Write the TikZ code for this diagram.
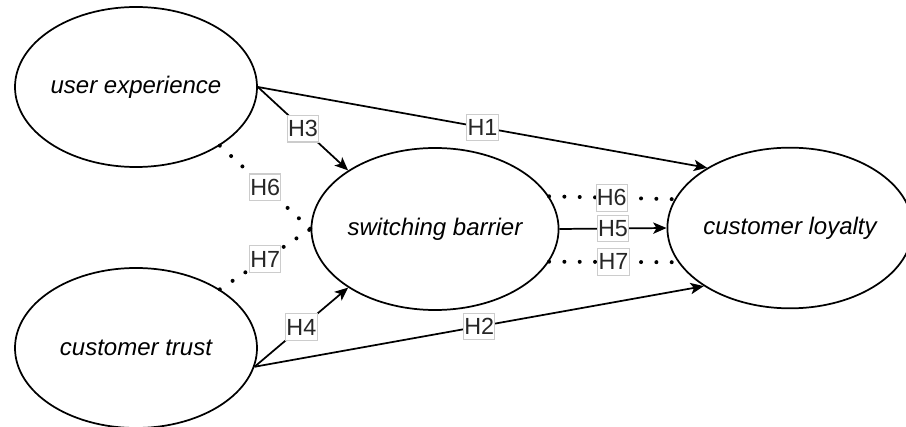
\documentclass[tikz,border=0pt]{standalone}
\usepackage{fontspec}
\setmainfont{Liberation Sans}
\usetikzlibrary{shapes.geometric,arrows.meta}
\begin{document}
\begin{tikzpicture}[x=0.75pt,y=-0.75pt,
 ell/.style={ellipse,draw,line width=1.3pt,inner sep=0pt,font=\fontsize{18}{21}\selectfont\itshape},
 arr/.style={line width=1.3pt,-{Stealth[length=10pt,width=8.5pt,inset=2.5pt]}},
 dots/.style={line width=3pt,line cap=round,dash pattern=on 0pt off 11.5pt},
 lab/.style={solid,line cap=butt,draw=gray!40,line width=0.8pt,fill=white,inner xsep=0.6pt,inner ysep=0pt,minimum height=20pt,font=\fontsize{17.5}{19}\selectfont,text=black!85}]
\useasboundingbox (0,0) rectangle (906,427);
\node[ell,minimum width=181.5pt,minimum height=120pt] (UE) at (136,87) {user experience};
\node[ell,minimum width=181.5pt,minimum height=120pt] (CT) at (136,348) {customer trust};
\node[ell,minimum width=180pt,minimum height=121.5pt] (SB) at (435,229) {switching barrier};
\node[ell,minimum width=172.5pt,minimum height=120.5pt] (CL) at (790,228) {customer loyalty};
% solid arrows
\draw[arr] (UE.east) -- node[lab] (h1) {H1} (CL.144);
\draw[arr] (UE.east) -- node[lab] (h3) {H3} (SB.146);
\draw[arr] (CT.-9) -- node[lab] (h2) {H2} (CL.214);
\draw[arr] (CT.-9) -- node[lab] (h4) {H4} (SB.214);
\draw[arr] (SB.east) -- node[lab] (h5) {H5} (CL.west);
% dotted
\draw[dots] (SB.16) -- node[lab] (h6r) {H6} (CL.166);
\draw[dots] (SB.-16) -- node[lab] (h7r) {H7} (CL.197);
\draw[dots] (UE.-35) -- node[lab] (h6l) {H6} (SB.west);
\draw[dots] (CT.35) -- node[lab] (h7l) {H7} (SB.west);
\end{tikzpicture}
\end{document}
